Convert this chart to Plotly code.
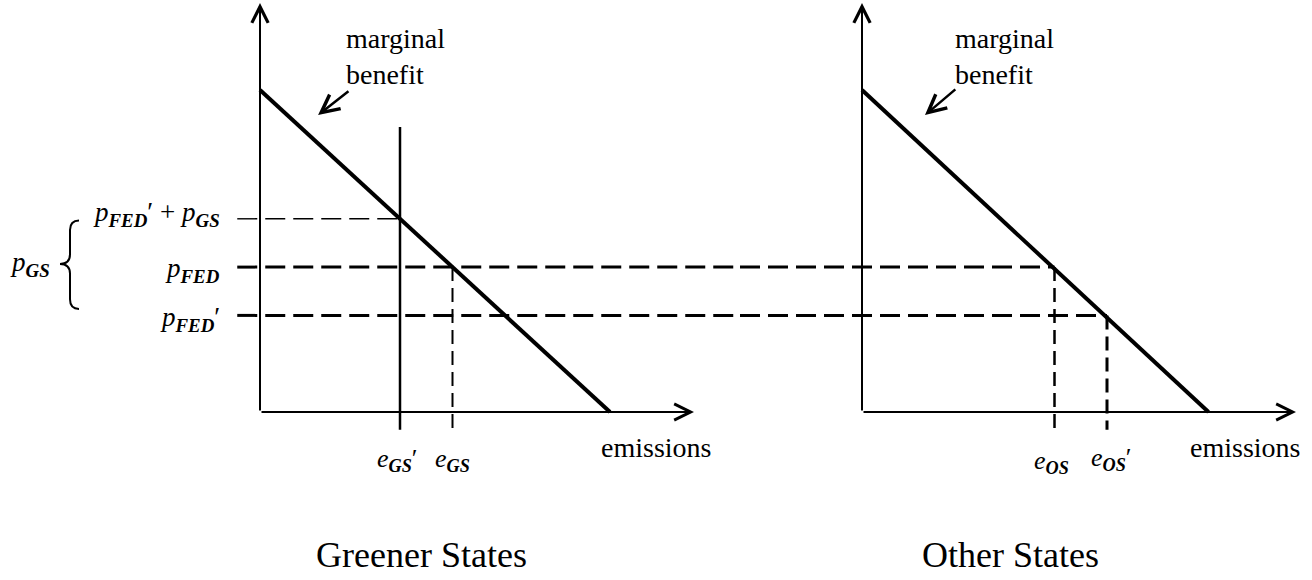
import plotly.graph_objects as go

# ---------------- data (model units) ----------------
mb_e = [0, 10]          # marginal benefit: emissions endpoints
mb_p = [10, 0]          # marginal benefit: price endpoints
mb_e_right = [0, 9.9]
mb_p_right = [10, 0]
p_fed = 4.5
p_fed_prime = 3.0
p_gs = 3.0
e_gs_prime = 4.0
e_gs = 5.5
e_os = 5.5
e_os_prime = 7.0
cap_top = 8.85
axis_x_len = 12.4
axis_y_len = 12.7

# ---------------- layout mapping (pixels) ----------------
W, H = 1312, 580
PX_E = 35.0
PX_P = 32.2
ORIGIN_L = 260
ORIGIN_R = 862
ORIGIN_Y = 412
SPLIT = 740
STUB = -0.65
BELOW = -0.55

xl_range = [(0 - ORIGIN_L) / PX_E, (SPLIT - ORIGIN_L) / PX_E]
xr_range = [(SPLIT - ORIGIN_R) / PX_E, (W - ORIGIN_R) / PX_E]
y_range = [(ORIGIN_Y - H) / PX_P, ORIGIN_Y / PX_P]

FONT = "Liberation Serif"
BLACK = "#000000"
DASH = "20px,8px"

fig = go.Figure()


def line(x, y, xa="x", width=2, dash="solid"):
    fig.add_trace(go.Scatter(x=x, y=y, xaxis=xa, yaxis="y", mode="lines",
                             line=dict(color=BLACK, width=width, dash=dash),
                             hoverinfo="skip", showlegend=False))


# marginal benefit curves
line(mb_e, mb_p, "x", 4)
line(mb_e_right, mb_p_right, "x2", 4)

# cap line in greener states
line([e_gs_prime, e_gs_prime], [BELOW, cap_top], "x", 2.5)

# price levels
line([STUB, e_gs_prime], [p_fed_prime + p_gs] * 2, "x", 1.4, DASH)
line([STUB, xl_range[1]], [p_fed] * 2, "x", 3, DASH)
line([xr_range[0], e_os], [p_fed] * 2, "x2", 3, DASH)
line([STUB, xl_range[1]], [p_fed_prime] * 2, "x", 3, DASH)
line([xr_range[0], e_os_prime], [p_fed_prime] * 2, "x2", 3, DASH)

# emission drops
line([e_gs, e_gs], [p_fed, BELOW], "x", 2, "14px,7px")
line([e_os, e_os], [p_fed, BELOW], "x2", 2.5, "14px,7px")
line([e_os_prime, e_os_prime], [p_fed_prime, BELOW], "x2", 3, "14px,7px")

ann = []


def arrow(xa, x, y, ax, ay, width=2, size=1.5):
    ann.append(dict(xref=xa, yref="y", axref=xa, ayref="y", x=x, y=y, ax=ax, ay=ay,
                    text="", showarrow=True, arrowhead=5, arrowwidth=width,
                    arrowsize=size, arrowcolor=BLACK, standoff=0, startstandoff=0))


def text(xa, x, y, t, size=26, xanchor="center", yanchor="middle", align="center"):
    ann.append(dict(xref=xa, yref="y", x=x, y=y, text=t, showarrow=False,
                    xanchor=xanchor, yanchor=yanchor, align=align,
                    font=dict(family=FONT, size=size, color=BLACK)))


# axes with arrowheads
for xa in ("x", "x2"):
    arrow(xa, 0, axis_y_len, 0, 0, 2, 1.6)
    arrow(xa, axis_x_len, 0, 0, 0, 2, 1.6)

# marginal benefit pointers
arrow("x", 1.66, 9.22, 2.57, 10.0, 2.5, 1.4)
arrow("x2", 1.8, 9.22, 2.71, 10.06, 2.5, 1.4)

mb_txt = "marginal<br>benefit"
text("x", 2.4, 11.05, mb_txt, 28, "left", "middle", "left")
text("x2", 2.6, 11.05, mb_txt, 28, "left", "middle", "left")

text("x", 11.3, -1.1, "emissions", 28)
text("x2", 10.95, -1.1, "emissions", 28)


def sub(s):
    return "<sub><b><i>" + s + "</i></b></sub>"


text("x", e_gs_prime - 0.1, -1.5, "<i>e</i>" + sub("GS") + "′", 26)
text("x", e_gs + 0.0, -1.5, "<i>e</i>" + sub("GS"), 26)
text("x2", e_os - 0.1, -1.55, "<i>e</i>" + sub("OS"), 26)
text("x2", e_os_prime + 0.1, -1.45, "<i>e</i>" + sub("OS") + "′", 26)

lx = (222 - ORIGIN_L) / PX_E
text("x", lx, p_fed_prime + p_gs + 0.15, "<i>p</i>" + sub("FED") + "′ + <i>p</i>" + sub("GS"), 27, "right")
text("x", lx, p_fed - 0.1, "<i>p</i>" + sub("FED"), 27, "right")
text("x", lx, p_fed_prime - 0.1, "<i>p</i>" + sub("FED") + "′", 27, "right")
text("x", (52 - ORIGIN_L) / PX_E, 4.6, "<i>p</i>" + sub("GS"), 27, "right")

text("x", 4.6, -4.44, "Greener States", 36)
text("x2", 4.23, -4.44, "Other States", 36)

# brace spanning p_GS
bt, bb, bm = 5.95, 3.2, 4.6
x_end = (79 - ORIGIN_L) / PX_E
x_body = (70 - ORIGIN_L) / PX_E
x_tip = (60 - ORIGIN_L) / PX_E
r = 0.3
path = (f"M{x_end},{bt} Q{x_body},{bt} {x_body},{bt - r} L{x_body},{bm + r} "
        f"Q{x_body},{bm} {x_tip},{bm} Q{x_body},{bm} {x_body},{bm - r} "
        f"L{x_body},{bb + r} Q{x_body},{bb} {x_end},{bb}")
shapes = [dict(type="path", xref="x", yref="y", path=path,
               line=dict(color=BLACK, width=2))]

axis_common = dict(visible=False, showgrid=False, zeroline=False, fixedrange=True)
fig.update_layout(
    width=W, height=H, margin=dict(l=0, r=0, t=0, b=0),
    paper_bgcolor="white", plot_bgcolor="white", showlegend=False,
    xaxis=dict(domain=[0, SPLIT / W], range=xl_range, anchor="y", **axis_common),
    xaxis2=dict(domain=[SPLIT / W, 1], range=xr_range, anchor="y", **axis_common),
    yaxis=dict(domain=[0, 1], range=y_range, anchor="x", **axis_common),
    annotations=ann, shapes=shapes,
)

fig.write_html("out.html", post_script="document.body.style.margin='0';document.body.style.overflow='hidden';",
               config={"displayModeBar": False})
